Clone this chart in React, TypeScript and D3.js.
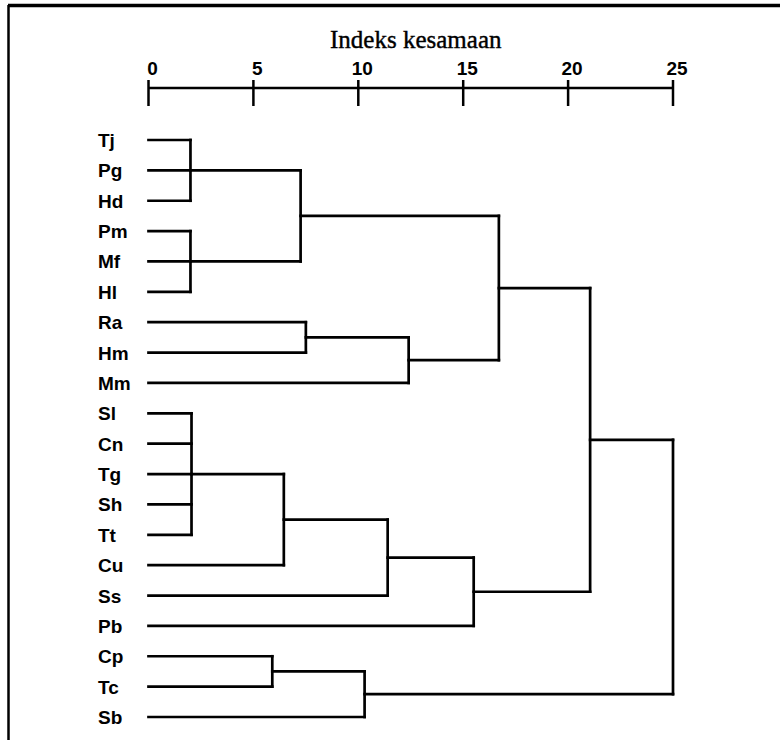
import React, { useEffect, useRef } from 'react'
import * as d3 from 'd3'

// leaf order, top to bottom
const leaves = ['Tj', 'Pg', 'Hd', 'Pm', 'Mf', 'Hl', 'Ra', 'Hm', 'Mm', 'Sl', 'Cn', 'Tg', 'Sh', 'Tt', 'Cu', 'Ss', 'Pb', 'Cp', 'Tc', 'Sb']

// cluster id, members, rescaled distance where they join
const mergeIds = ['c1', 'c2', 'c3', 'c4', 'c5', 'c6', 'c7', 'c8', 'c9', 'c10', 'c11', 'c12', 'c13', 'c14']
const mergeMembers = [
  ['Tj', 'Pg', 'Hd'],
  ['Pm', 'Mf', 'Hl'],
  ['c1', 'c2'],
  ['Ra', 'Hm'],
  ['c4', 'Mm'],
  ['c3', 'c5'],
  ['Sl', 'Cn', 'Tg', 'Sh', 'Tt'],
  ['c7', 'Cu'],
  ['c8', 'Ss'],
  ['c9', 'Pb'],
  ['c6', 'c10'],
  ['Cp', 'Tc'],
  ['c12', 'Sb'],
  ['c11', 'c13'],
]
const mergeHeights = [2, 2, 7.25, 7.5, 12.4, 16.7, 2.05, 6.45, 11.4, 15.5, 21.05, 5.9, 10.3, 25]

const tickValues = [0, 5, 10, 15, 20, 25]
const title = 'Indeks kesamaan'

const W = 780
const H = 740

const App = () => {
  const svgRef = useRef<SVGSVGElement>(null)

  useEffect(() => {
    document.body.style.margin = '0'
    const svg = d3.select(svgRef.current)
    svg.selectAll('*').remove()

    const x = d3.scaleLinear().domain([0, 25]).range([148.5, 673])
    const y = d3.scalePoint<string>().domain(leaves).range([140, 717])

    // frame (left + top edge of the scanned box)
    svg.append('line').attr('x1', 8.5).attr('x2', 8.5).attr('y1', 5).attr('y2', H)
      .attr('stroke', '#000').attr('stroke-width', 2.5)
    svg.append('line').attr('x1', 8).attr('x2', W).attr('y1', 5.5).attr('y2', 5.5)
      .attr('stroke', '#000').attr('stroke-width', 3.5)

    // title
    svg.append('text')
      .attr('x', (x(0) + x(25)) / 2 + 5)
      .attr('y', 48)
      .attr('text-anchor', 'middle')
      .attr('font-family', '"Liberation Serif", "Times New Roman", serif')
      .attr('font-size', 25)
      .attr('stroke', '#000')
      .attr('stroke-width', 0.4)
      .attr('fill', '#000')
      .text(title)

    // axis
    const axisY = 88
    const ax = svg.append('g')
    ax.append('line').attr('x1', x(0)).attr('x2', x(25)).attr('y1', axisY).attr('y2', axisY)
      .attr('stroke', '#000').attr('stroke-width', 2.7)
    ax.selectAll('line.tick').data(tickValues).enter().append('line')
      .attr('class', 'tick')
      .attr('x1', (d) => x(d)).attr('x2', (d) => x(d))
      .attr('y1', axisY - 8).attr('y2', axisY + 18)
      .attr('stroke', '#000').attr('stroke-width', 2.5)
    ax.selectAll('text').data(tickValues).enter().append('text')
      .attr('x', (d) => x(d) + 4)
      .attr('y', 75)
      .attr('text-anchor', 'middle')
      .attr('font-family', '"Liberation Sans", Arial, sans-serif')
      .attr('font-weight', 'bold')
      .attr('font-size', 19)
      .attr('fill', '#000')
      .text((d) => d)

    // leaf labels
    svg.append('g').selectAll('text').data(leaves).enter().append('text')
      .attr('x', 98)
      .attr('y', (d) => (y(d) as number) + 7)
      .attr('font-family', '"Liberation Sans", Arial, sans-serif')
      .attr('font-weight', 'bold')
      .attr('font-size', 19)
      .attr('fill', '#000')
      .text((d) => d)

    // dendrogram links
    const pos: Record<string, { x: number; y: number }> = {}
    leaves.forEach((l) => (pos[l] = { x: x(0), y: y(l) as number }))

    const g = svg.append('g')
      .attr('stroke', '#000')
      .attr('stroke-width', 2.7)
      .attr('stroke-linecap', 'square')
      .attr('fill', 'none')

    mergeIds.forEach((id, i) => {
      const kids = mergeMembers[i].map((k) => pos[k])
      const nx = x(mergeHeights[i])
      const ny = d3.mean(kids, (k) => k.y) as number
      kids.forEach((k) => {
        g.append('line').attr('x1', k.x).attr('x2', nx).attr('y1', k.y).attr('y2', k.y)
      })
      const ext = d3.extent(kids, (k) => k.y) as [number, number]
      g.append('line').attr('x1', nx).attr('x2', nx).attr('y1', ext[0]).attr('y2', ext[1])
      pos[id] = { x: nx, y: ny }
    })
  }, [])

  return <svg ref={svgRef} width={W} height={H} style={{ display: 'block', background: '#fff' }}></svg>
}

export default App
